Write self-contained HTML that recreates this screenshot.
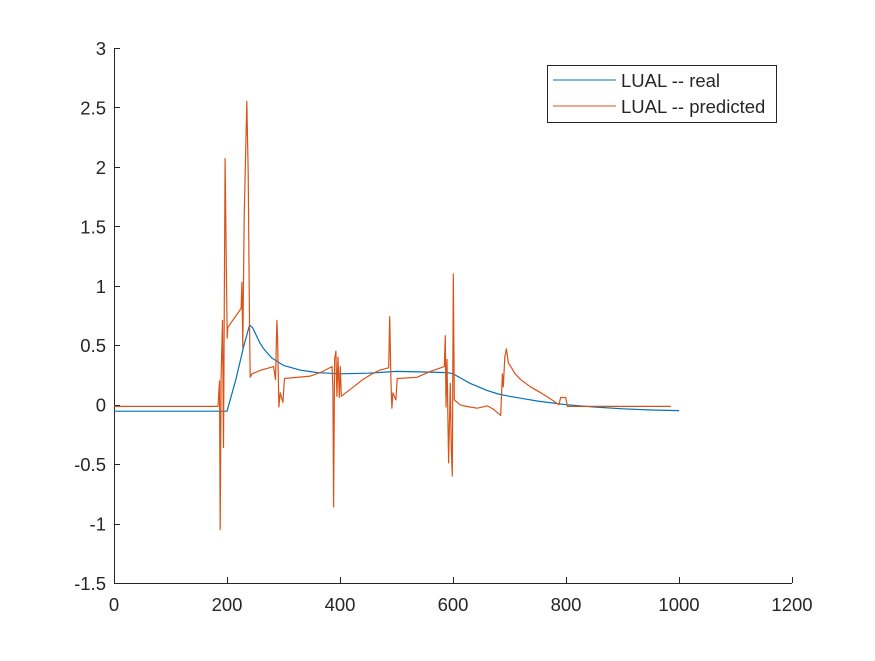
<!DOCTYPE html>
<html><head><meta charset="utf-8"><style>
body{margin:0;background:#fff;}
svg text{font-family:"Liberation Sans",Arial,sans-serif;font-size:18.5px;fill:#262626;}
</style></head><body>
<svg id="chart" width="875" height="656" xmlns="http://www.w3.org/2000/svg">
<rect width="875" height="656" fill="#fff"/>
<g id="axes"></g>
<g id="series"></g>
<g id="legend">
<rect x="547.5" y="65.5" width="229" height="57" fill="#fff" stroke="#262626" stroke-width="1"/>
<line x1="553" y1="80" x2="616" y2="80" stroke="#0072BD" stroke-width="1"/>
<text x="621" y="87">LUAL -- real</text>
<line x1="553" y1="106" x2="616" y2="106" stroke="#D95319" stroke-width="1"/>
<text x="621" y="113">LUAL -- predicted</text>
</g>
</svg>
<script>
const xTicks=[0,200,400,600,800,1000,1200];
const yTicks=[-1.5,-1,-0.5,0,0.5,1,1.5,2,2.5,3];
const yTickLabels=["-1.5","-1","-0.5","0","0.5","1","1.5","2","2.5","3"];
const realX=[0,200,215,230,240,245,250,258,265,272,280,290,300,315,330,345,360,380,400,450,500,550,590,600,615,630,645,660,680,700,725,750,775,800,850,900,950,1000];
const realY=[-0.055,-0.055,0.2,0.5,0.67,0.65,0.6,0.52,0.47,0.43,0.39,0.36,0.33,0.31,0.29,0.28,0.27,0.265,0.26,0.265,0.28,0.275,0.27,0.26,0.22,0.18,0.15,0.12,0.09,0.07,0.05,0.03,0.015,0.0,-0.02,-0.035,-0.045,-0.05];
const predX=[0,184,186.7,187.9,189.6,192,193.8,196.7,198.5,200.3,201.4,225,226.3,228,230.4,232.8,235.1,237.5,239.8,241,244,260,282.4,285.9,288.3,289.5,291.8,294.2,298.9,301.8,347.4,365,385.8,387.5,388.7,390.5,392.8,394.6,396.4,398.8,400.5,402.3,424,440,453.7,470,486.2,488,490,491.8,493.6,499,501.3,536.1,559.8,584.6,586.4,587.6,589.4,592.3,595.3,597,598.8,600.6,602.3,605,612,619.4,630,643,660.8,672,684.5,687.5,689,691.6,694.5,698,701,710,720,737,755.5,775,787.6,790.5,799.4,802.4,985.5];
const predY=[-0.015,-0.015,0.2,-1.05,0.23,0.71,-0.36,2.07,1.24,0.56,0.65,0.81,1.03,0.48,1.58,2.06,2.55,1.95,0.69,0.23,0.26,0.29,0.32,0.21,0.71,0.55,-0.02,0.1,0.02,0.22,0.24,0.27,0.32,0.15,-0.86,0.38,0.45,0.07,0.4,0.06,0.32,0.07,0.15,0.21,0.25,0.29,0.31,0.74,0.21,-0.03,0.1,0.04,0.22,0.23,0.28,0.32,0.58,-0.02,0.38,-0.49,0.18,-0.38,-0.6,1.1,0.04,0.03,0.0,-0.01,-0.02,-0.03,-0.01,-0.04,-0.09,0.26,0.15,0.4,0.47,0.35,0.33,0.26,0.21,0.15,0.1,0.04,0.0,0.06,0.06,-0.015,-0.015];
const X0=114,X1=792,Y0=583,Y1=48;
function sx(v){return X0+(v-0)/(1200-0)*(X1-X0);}
function sy(v){return Y0-(v+1.5)/(3+1.5)*(Y0-Y1);}
const NS="http://www.w3.org/2000/svg";
const axes=document.getElementById('axes');
function mk(tag,attrs,parent){const e=document.createElementNS(NS,tag);for(const k in attrs)e.setAttribute(k,attrs[k]);parent.appendChild(e);return e;}
const xa=mk('line',{x1:X0,y1:Y0+0.5,x2:X1,y2:Y0+0.5,stroke:'#262626'},axes);


const ya=mk('line',{x1:X0+0.5,y1:Y1,x2:X0+0.5,y2:Y0,stroke:'#262626'},axes);


xTicks.forEach(v=>{
  const x=Math.round(sx(v))+0.5;
  const t=mk('line',{x1:x,y1:Y0,x2:x,y2:Y0-6,stroke:'#262626'},axes);
  
  
  const l=mk('text',{x:sx(v),y:Y0+28,'text-anchor':'middle'},axes);
  l.textContent=String(v);
  
  
});
yTicks.forEach((v,i)=>{
  const y=Math.round(sy(v))+0.5;
  const t=mk('line',{x1:X0,y1:y,x2:X0+6,y2:y,stroke:'#262626'},axes);
  
  
  const l=mk('text',{x:X0-8,y:sy(v)+7,'text-anchor':'end'},axes);
  l.textContent=yTickLabels[i];
  
  
});
const series=document.getElementById('series');
function line(xs,ys,color,name){
  const d=xs.map((x,i)=>(i?'L':'M')+sx(x).toFixed(1)+','+sy(ys[i]).toFixed(1)).join('');
  const p=mk('path',{d:d,fill:'none',stroke:color,'stroke-width':1.2,'stroke-linejoin':'round'},series);
  
  
}
line(realX,realY,'#0072BD','series-real');
line(predX,predY,'#D95319','series-predicted');
</script>
</body></html>
